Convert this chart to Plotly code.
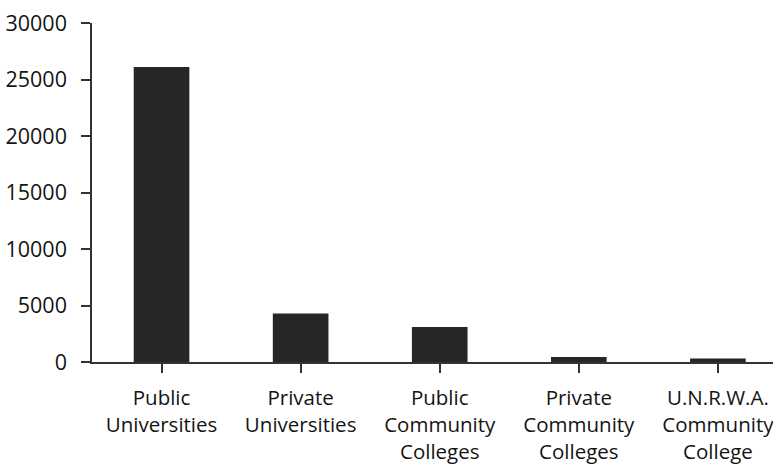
import plotly.graph_objects as go

categories = ["Public<br>Universities", "Private<br>Universities", "Public<br>Community<br>Colleges",
              "Private<br>Community<br>Colleges", "U.N.R.W.A.<br>Community<br>College"]
values = [26100, 4300, 3100, 450, 300]
y_ticks = [0, 5000, 10000, 15000, 20000, 25000, 30000]

fig = go.Figure(go.Bar(x=list(range(len(categories))), y=values, marker=dict(color="#262626", line=dict(width=0))))

fig.update_layout(
    width=773, height=467,
    margin=dict(l=92, r=0, t=23, b=105, pad=0),
    plot_bgcolor="white", paper_bgcolor="white",
    bargap=0.6, showlegend=False,
    font=dict(family="Open Sans", size=20.5, color="#141414"),
)
fig.update_xaxes(
    tickmode="array", tickvals=list(range(len(categories))), ticktext=categories,
    range=[-0.5, 4.396], showline=True, linecolor="#333333", linewidth=1.5,
    ticks="outside", ticklen=9, tickwidth=1.5, tickcolor="#333333",
    tickson="boundaries", showgrid=False, zeroline=False, ticklabelstandoff=8,
    automargin=False, ticklabeloverflow="allow",
)
fig.update_yaxes(
    range=[0, 30000], tickvals=y_ticks, ticktext=[str(v) for v in y_ticks],
    showline=True, linecolor="#333333", linewidth=1.5,
    ticks="outside", ticklen=9, tickwidth=1.5, tickcolor="#333333",
    showgrid=False, zeroline=False, ticklabelstandoff=10,
    tickfont=dict(size=21.5), automargin=False, ticklabeloverflow="allow",
)
fig.write_html("out.html", config={"displayModeBar": False},
               post_script="document.body.style.margin='0px';document.body.style.overflow='hidden';")
